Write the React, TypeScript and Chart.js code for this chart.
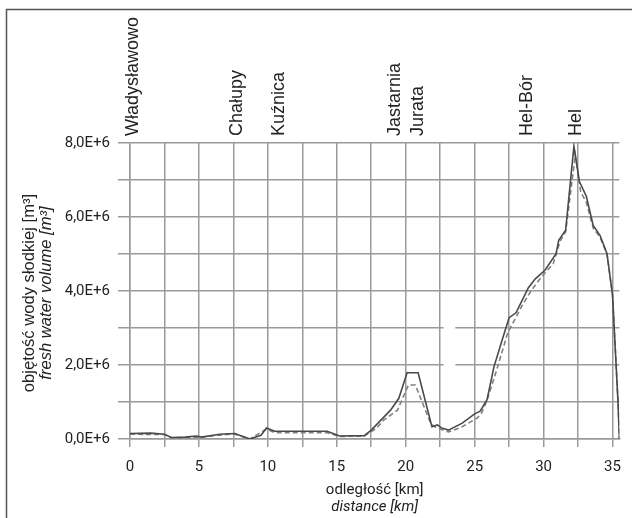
import React, { useEffect, useRef } from 'react';
import { Chart, registerables } from 'chart.js';

Chart.register(...registerables);

// distance along the Hel Peninsula [km]
const kmSolid = [0, 1.5, 2.5, 3.0, 4.0, 4.8, 5.2, 6.5, 7.6, 8.7, 9.5, 9.9, 10.5, 14.3, 15.2, 17.0, 17.5, 18.2, 18.9, 19.5, 20.1, 20.9, 21.9, 22.3, 22.6, 23.1, 24.1, 25.0, 25.4, 25.9, 26.4, 27.0, 27.5, 28.0, 28.9, 29.4, 30.1, 30.9, 31.1, 31.6, 32.2, 32.6, 33.1, 33.6, 34.1, 34.6, 35.0, 35.4, 35.5];
// fresh water volume [million m3] – solid line
const volSolid = [0.15, 0.16, 0.13, 0.04, 0.05, 0.08, 0.05, 0.13, 0.15, 0.0, 0.1, 0.3, 0.21, 0.21, 0.08, 0.09, 0.24, 0.51, 0.78, 1.1, 1.79, 1.79, 0.33, 0.38, 0.3, 0.24, 0.43, 0.68, 0.75, 1.06, 1.95, 2.68, 3.28, 3.41, 4.09, 4.33, 4.56, 5.0, 5.37, 5.64, 7.91, 6.96, 6.56, 5.77, 5.5, 5.01, 3.9, 1.0, 0.0];

const kmDashed = [0, 2.5, 3.0, 5.0, 7.5, 8.7, 9.9, 10.5, 14.3, 15.2, 17.0, 17.9, 18.4, 19.4, 20.2, 20.7, 21.8, 22.1, 23.1, 24.1, 25.2, 25.5, 25.9, 26.6, 27.4, 27.9, 28.4, 29.1, 29.8, 30.2, 30.7, 31.0, 31.2, 31.6, 32.3, 32.7, 33.1, 33.6, 34.1, 34.6, 35.0, 35.4, 35.5];
// fresh water volume [million m3] – dashed line
const volDashed = [0.13, 0.12, 0.03, 0.05, 0.14, 0.0, 0.27, 0.17, 0.17, 0.07, 0.08, 0.3, 0.51, 0.78, 1.46, 1.46, 0.43, 0.33, 0.19, 0.33, 0.57, 0.7, 1.05, 1.87, 2.87, 3.22, 3.58, 4.01, 4.36, 4.53, 4.74, 5.1, 5.35, 5.6, 7.67, 6.67, 6.4, 5.7, 5.45, 5.0, 3.9, 1.0, 0.0];

const stationNames = ['Władysławowo', 'Chałupy', 'Kuźnica', 'Jastarnia', 'Jurata', 'Hel-Bór', 'Hel'];
const stationKm = [0.2, 7.8, 10.8, 19.2, 20.9, 28.8, 32.35];

const yTitle1 = 'objętość wody słodkiej [m³]';
const yTitle2 = 'fresh water volume [m³]';
const xTitle1 = 'odległość [km]';
const xTitle2 = 'distance [km]';

const FONT_TICK = "Roboto, 'Liberation Sans', Arial, sans-serif";
const FONT_REG = "'Liberation Sans', Arial, sans-serif";
const GRID = '#9a9a9a';
const TEXT = '#222';

const overlay = {
  id: 'overlay',
  beforeDatasetsDraw(chart: any) {
    // small break in the 2E6 and 3E6 grid lines near km 23, as in the source figure
    const { ctx, scales } = chart;
    const x0 = scales.x.getPixelForValue(22.75);
    const x1 = scales.x.getPixelForValue(23.6);
    ctx.save();
    ctx.fillStyle = '#fff';
    [2, 3].forEach((v) => {
      const y = scales.y.getPixelForValue(v);
      ctx.fillRect(x0, y - 1.5, x1 - x0, 3);
    });
    ctx.restore();
  },
  afterDraw(chart: any) {
    const { ctx, chartArea, scales } = chart;
    ctx.save();
    // figure frame
    ctx.strokeStyle = '#555';
    ctx.lineWidth = 1.5;
    ctx.beginPath();
    ctx.moveTo(6.5, 518);
    ctx.lineTo(6.5, 9.5);
    ctx.lineTo(632, 9.5);
    ctx.stroke();

    ctx.fillStyle = TEXT;
    // station names
    ctx.font = `18px ${FONT_REG}`;
    stationNames.forEach((name, i) => {
      const x = scales.x.getPixelForValue(stationKm[i]);
      ctx.save();
      ctx.translate(x, 136);
      ctx.rotate(-Math.PI / 2);
      ctx.textAlign = 'left';
      ctx.textBaseline = 'middle';
      ctx.fillText(name, 0, 0);
      ctx.restore();
    });

    // y axis title
    const cy = (chartArea.top + chartArea.bottom) / 2 + 2;
    ctx.save();
    ctx.translate(29, cy);
    ctx.rotate(-Math.PI / 2);
    ctx.textAlign = 'center';
    ctx.textBaseline = 'middle';
    ctx.font = `16.6px ${FONT_REG}`;
    ctx.fillText(yTitle1, 0, 0);
    ctx.font = `italic 16.6px ${FONT_REG}`;
    ctx.fillText(yTitle2, 0, 17);
    ctx.restore();

    // x axis title
    const cx = (chartArea.left + chartArea.right) / 2;
    ctx.textAlign = 'center';
    ctx.textBaseline = 'middle';
    ctx.font = `15px ${FONT_TICK}`;
    ctx.fillText(xTitle1, cx, 490);
    ctx.font = `italic 15px ${FONT_TICK}`;
    ctx.fillText(xTitle2, cx, 507);
    ctx.restore();
  },
};

export default function App() {
  const ref = useRef<HTMLCanvasElement | null>(null);
  useEffect(() => {
    if (!ref.current) return;
    const chart = new Chart(ref.current, {
      type: 'line',
      data: {
        datasets: [
          {
            data: kmSolid.map((k, i) => ({ x: k, y: volSolid[i] })),
            borderColor: '#4a4a4a',
            borderWidth: 1.6,
            pointRadius: 0,
            fill: false,
            tension: 0,
          },
          {
            data: kmDashed.map((k, i) => ({ x: k, y: volDashed[i] })),
            borderColor: '#808080',
            borderWidth: 1.6,
            borderDash: [5, 3],
            pointRadius: 0,
            fill: false,
            tension: 0,
          },
        ],
      },
      options: {
        responsive: false,
        animation: false,
        layout: { padding: { top: 143, right: 5, left: 0, bottom: 0 } },
        plugins: { legend: { display: false }, tooltip: { enabled: false } },
        scales: {
          x: {
            type: 'linear',
            min: 0,
            max: 35.5,
            afterFit: (s: any) => { s.height = 79; },
            ticks: {
              stepSize: 2.5,
              includeBounds: false,
              autoSkip: false,
              maxRotation: 0,
              padding: 11,
              color: TEXT,
              font: { family: FONT_TICK, size: 15 },
              callback: (v: any) => (Number(v) % 5 === 0 ? String(v) : ''),
            },
            grid: { color: GRID, lineWidth: 1.5, tickLength: 8, tickColor: GRID },
            border: { color: GRID, width: 1.5 },
          },
          y: {
            type: 'linear',
            min: 0,
            max: 8,
            afterFit: (s: any) => { s.width = 130; },
            ticks: {
              stepSize: 1,
              autoSkip: false,
              padding: 8,
              color: TEXT,
              font: { family: FONT_TICK, size: 15 },
              callback: (v: any) => (Number(v) % 2 === 0 ? `${Number(v).toFixed(1).replace('.', ',')}E+6` : ''),
            },
            grid: { color: GRID, lineWidth: 1.5, tickLength: 12, tickColor: GRID },
            border: { color: GRID, width: 1.5 },
          },
        },
      },
      plugins: [overlay],
    });
    return () => chart.destroy();
  }, []);
  return (
    <div style={{ position: 'absolute', left: 0, top: 0, width: 632, height: 518, background: '#fff' }}>
      <canvas ref={ref} width={632} height={518} style={{ display: 'block' }} />
    </div>
  );
}
